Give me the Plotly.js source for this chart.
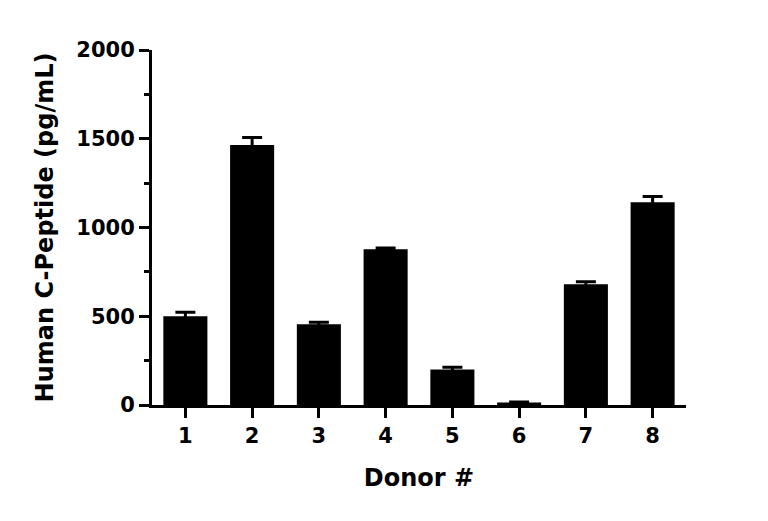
<!DOCTYPE html>
<html>
<head>
<meta charset="utf-8">
<script src="https://cdn.plot.ly/plotly-3.0.1.min.js"></script>
<style>html,body{margin:0;padding:0;background:#fff;}#chart{width:768px;height:521px;}</style>
</head>
<body>
<div id="chart"></div>
<script>
const donors = ["1", "2", "3", "4", "5", "6", "7", "8"];
const cPeptide = [500, 1465, 455, 877, 200, 14, 680, 1142];
const errors = [23, 42, 11, 8, 12, 3, 15, 32];
const yTicks = [0, 500, 1000, 1500, 2000];

const FONT = "DejaVu Sans, Arial, sans-serif";

const trace = {
  type: "bar",
  x: donors,
  y: cPeptide,
  marker: {color: "#000000", line: {width: 0}},
  error_y: {type: "data", array: errors, visible: true, color: "#000000", thickness: 3, width: 10, symmetric: true},
  hoverinfo: "x+y"
};

const layout = {
  width: 768,
  height: 521,
  margin: {l: 152, r: 82, t: 50, b: 116},
  paper_bgcolor: "#ffffff",
  plot_bgcolor: "#ffffff",
  showlegend: false,
  bargap: 0.34,
  font: {family: FONT, color: "#000000"},
  xaxis: {
    type: "category",
    range: [-0.5, 7.5],
    showgrid: false,
    zeroline: false,
    showline: true,
    linewidth: 3,
    linecolor: "#000000",
    ticks: "outside",
    ticklen: 10,
    tickwidth: 3,
    tickcolor: "#000000",
    tickfont: {family: FONT, size: 21, color: "#000000", weight: "bold"},
    title: {text: "Donor #", font: {family: FONT, size: 24, color: "#000000", weight: "bold"}, standoff: 22}
  },
  yaxis: {
    range: [0, 2000],
    tickvals: yTicks,
    ticktext: yTicks.map(String),
    showgrid: false,
    zeroline: false,
    showline: true,
    linewidth: 3,
    linecolor: "#000000",
    ticks: "outside",
    ticklen: 10,
    tickwidth: 3,
    tickcolor: "#000000",
    minor: {dtick: 250, tick0: 0, ticks: "outside", ticklen: 5, tickwidth: 3, tickcolor: "#000000", showgrid: false},
    tickfont: {family: FONT, size: 21, color: "#000000", weight: "bold"},
    title: {text: "Human C-Peptide (pg/mL)", font: {family: FONT, size: 24, color: "#000000", weight: "bold"}, standoff: 16}
  }
};

Plotly.newPlot("chart", [trace], layout, {displayModeBar: false, staticPlot: true});
</script>
</body>
</html>
